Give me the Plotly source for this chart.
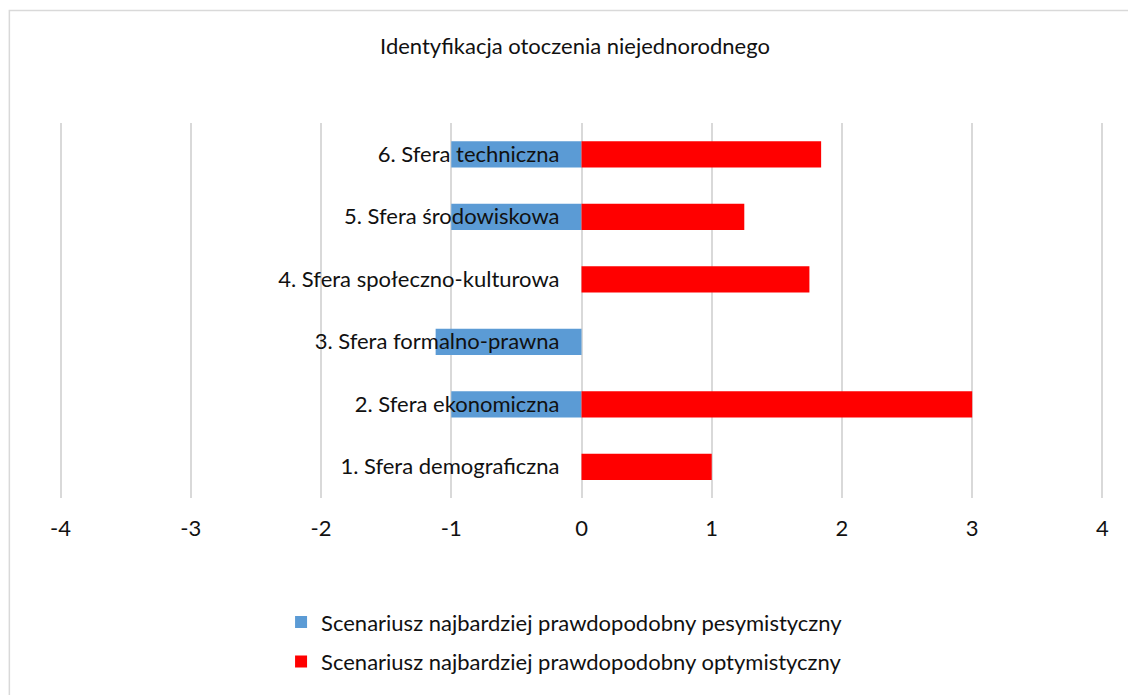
import plotly.graph_objects as go

# Dane wykresu
categories = [
    "1. Sfera demograficzna",
    "2. Sfera ekonomiczna",
    "3. Sfera formalno-prawna",
    "4. Sfera społeczno-kulturowa",
    "5. Sfera środowiskowa",
    "6. Sfera techniczna",
]
pesymistyczny = [0, -1, -1.12, 0, -1, -1]
optymistyczny = [1, 3, 0, 1.75, 1.25, 1.84]
x_ticks = [-4, -3, -2, -1, 0, 1, 2, 3, 4]
x_ticktext = ["-4", "-3", "-2", "-1", "0", "1", "2", "3", "4"]

FONT = "Lato"
FS = 22
TXT = "#111111"
GRID = "#d9d9d9"

fig = go.Figure()

fig.add_trace(go.Bar(
    y=categories,
    x=pesymistyczny,
    orientation="h",
    name="Scenariusz najbardziej prawdopodobny pesymistyczny",
    marker=dict(color="#5b9bd5", line=dict(width=0)),
    legendgroup="a",
))
fig.add_trace(go.Bar(
    y=categories,
    x=optymistyczny,
    orientation="h",
    name="Scenariusz najbardziej prawdopodobny optymistyczny",
    marker=dict(color="#ff0000", line=dict(width=0)),
    legendgroup="b",
))

# ramka wykresu
fig.add_shape(
    type="rect", xref="paper", yref="paper",
    x0=-0.0475, x1=1.2, y0=-1.0, y1=1.3,
    line=dict(color=GRID, width=1.5), layer="below",
)

fig.update_layout(
    width=1128,
    height=695,
    margin=dict(l=59.4, r=24.4, t=123, b=197),
    paper_bgcolor="white",
    plot_bgcolor="white",
    barmode="relative",
    bargap=0.58,
    font=dict(family=FONT, size=FS, color=TXT),
    title=dict(
        text="Identyfikacja otoczenia niejednorodnego",
        x=575 / 1128, xref="container", xanchor="center",
        y=1 - 46 / 695, yref="container", yanchor="middle",
        font=dict(family=FONT, size=FS, color=TXT),
    ),
    xaxis=dict(
        # zakres minimalnie szerszy, żeby linie siatki przy -4 i 4 nie były ucinane
        range=[-4.012, 4.012],
        tickvals=x_ticks,
        ticktext=x_ticktext,
        showgrid=True,
        gridcolor=GRID,
        gridwidth=1.5,
        zeroline=False,
        showline=False,
        ticks="",
        ticklabelstandoff=15,
        tickfont=dict(family=FONT, size=FS, color=TXT),
    ),
    yaxis=dict(
        categoryorder="array",
        categoryarray=categories,
        range=[-0.5, 5.5],
        anchor="free",
        position=0.5,
        showgrid=False,
        zeroline=False,
        showline=False,
        ticks="",
        ticklabelstandoff=22,
        tickfont=dict(family=FONT, size=FS, color=TXT),
    ),
    legend=dict(
        orientation="v",
        x=0.2125,
        xanchor="left",
        y=-0.275,
        yanchor="top",
        tracegroupgap=8,
        traceorder="grouped",
        font=dict(family=FONT, size=FS, color=TXT),
        bgcolor="rgba(0,0,0,0)",
    ),
    showlegend=True,
)

fig.write_html(
    "out.html",
    config={"displayModeBar": False},
    post_script="document.body.style.margin='0';",
)
